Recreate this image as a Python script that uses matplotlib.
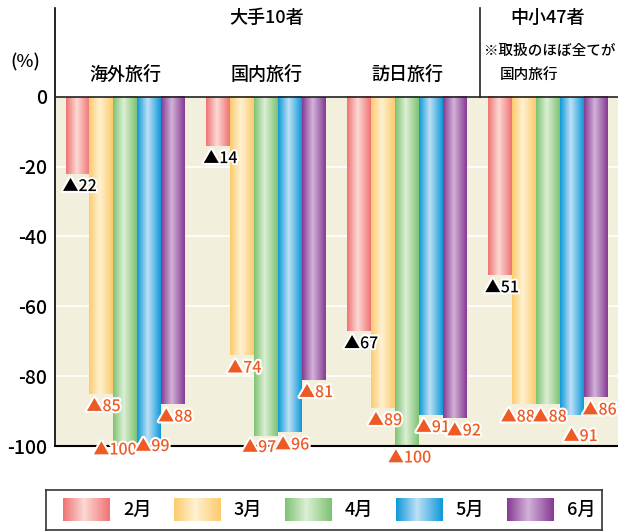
import numpy as np
import matplotlib
matplotlib.use('Agg')
import matplotlib.pyplot as plt
import matplotlib.patheffects as pe
from matplotlib.colors import LinearSegmentedColormap

plt.rcParams['font.family'] = ['Noto Sans CJK JP', 'DejaVu Sans']
plt.rcParams['axes.unicode_minus'] = False

# ---------- データ ----------
groups = ['海外旅行', '国内旅行', '訪日旅行', '国内旅行']
months = ['2月', '3月', '4月', '5月', '6月']
kaigai = [22, 85, 100, 99, 88]
kokunai = [14, 74, 97, 96, 81]
honichi = [67, 89, 100, 91, 92]
chusho = [51, 88, 88, 91, 86]
values = [kaigai, kokunai, honichi, chusho]
yticks = [0, -20, -40, -60, -80, -100]

# 月ごとの色 (濃い色, ハイライト)
bar_colors = [('#ef7474', '#fcd9d4'),
              ('#fdcb6e', '#fff1d2'),
              ('#7fc374', '#dcefd5'),
              ('#0f9ad9', '#bfe0f6'),
              ('#863b94', '#d2b3d8')]

bg = '#f2f0dc'
red = '#ef5a24'
W = 0.17  # 棒の幅

# ラベル位置の微調整 (ピクセル)
label_shift = {(0, 2): (-20, 4), (0, 3): (-2, 4), (1, 2): (-12, 12),
               (2, 2): (-7, 12), (2, 4): (4, 13), (3, 1): (-11, 13),
               (3, 3): (4, 22), (3, 4): (-1, 13)}


def grad_cmap(base, light):
    return LinearSegmentedColormap.from_list(
        '', [(0, base), (0.45, light), (1, base)])


grad = np.linspace(0, 1, 64)[None, :]

fig = plt.figure(figsize=(6.18, 5.31), dpi=100)
ax = fig.add_axes([55 / 618, 85 / 531, 563 / 618, 438 / 531])

# 背景
ax.axhspan(-100, 0, color=bg, zorder=0, lw=0)
for t in yticks[1:-1]:
    ax.axhline(t, color='white', lw=1.2, zorder=0.5)

# ---------- 棒グラフ (グラデーション) ----------
for g, vals in enumerate(values):
    for m, v in enumerate(vals):
        x0 = g - 2.5 * W + m * W
        ax.imshow(grad, cmap=grad_cmap(*bar_colors[m]), aspect='auto',
                  extent=(x0, x0 + W, -v, 0), zorder=2, interpolation='bilinear')
        dx, dy = label_shift.get((g, m), (-3, 13))
        ax.annotate('▲' + str(v), xy=(x0, -v), xytext=(dx, -dy),
                    textcoords='offset pixels', ha='left', va='center',
                    fontsize=11.5, weight='medium',
                    color='black' if m == 0 else red, zorder=5,
                    annotation_clip=False,
                    path_effects=[pe.withStroke(linewidth=3, foreground='white')])

ax.set_xlim(-0.5, 3.5)
ax.set_ylim(-100, 25.4)
ax.set_yticks(yticks)
ax.set_yticklabels([str(t) for t in yticks], fontsize=14, weight='medium')
ax.tick_params(axis='y', length=0, pad=6)
ax.set_xticks([])
for s in ['top', 'right']:
    ax.spines[s].set_visible(False)
ax.spines['left'].set_linewidth(1.2)
ax.spines['bottom'].set_linewidth(1.5)
ax.axhline(0, color='#222222', lw=1.2, zorder=3)
ax.plot([2.52, 2.52], [0, 25.4], color='#222222', lw=1.2, clip_on=False)

# 見出し
ax.text(1, 22.5, '大手10者', ha='center', va='center', fontsize=13, weight='medium')
ax.text(3, 22.5, '中小47者', ha='center', va='center', fontsize=13, weight='medium')
for g in range(3):
    ax.text(g, 6.3, groups[g], ha='center', va='center', fontsize=13, weight='medium')
ax.text(2.55, 13.2, '※取扱のほぼ全てが', ha='left', va='center', fontsize=10.5,
        weight='medium')
ax.text(2.66, 6.3, groups[3], ha='left', va='center', fontsize=10.5, weight='medium')
fig.text(25 / 618, 1 - 62 / 531, '(%)', ha='center', va='center', fontsize=13,
         weight='medium')

# ---------- 凡例 ----------
lax = fig.add_axes([46 / 618, 1 / 531, 556 / 618, 40 / 531])
for s in lax.spines.values():
    s.set_linewidth(1.2)
    s.set_color('#333333')
for m, name in enumerate(months):
    px = 17 + m * 111
    lax.imshow(grad, cmap=grad_cmap(*bar_colors[m]), aspect='auto',
               extent=(px, px + 47, 9, 32), interpolation='bilinear')
    lax.text(px + 60, 20, name, ha='left', va='center', fontsize=13, weight='medium')
lax.set_xlim(0, 556)
lax.set_ylim(0, 40)
lax.set_xticks([])
lax.set_yticks([])

fig.savefig('out.png', dpi=100)
